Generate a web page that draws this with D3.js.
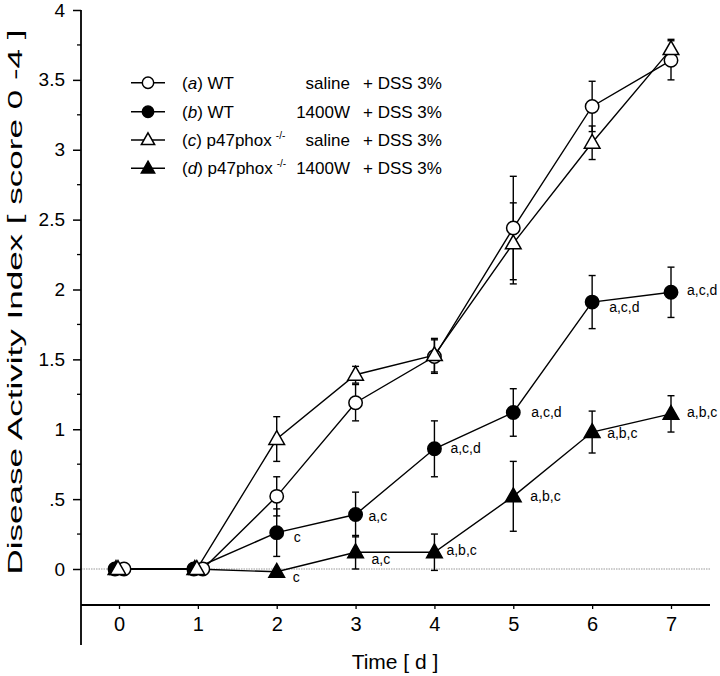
<!DOCTYPE html>
<html>
<head>
<meta charset="utf-8">
<script src="https://cdn.jsdelivr.net/npm/d3@7/dist/d3.min.js"></script>
<style>
  html, body { margin: 0; padding: 0; background: #fff; }
  svg { display: block; font-family: "Liberation Sans", Arial, Helvetica, sans-serif; }
</style>
</head>
<body>
<svg id="chart" width="720" height="676"></svg>
<script>
// ---------------- data ----------------
const days = [0, 1, 2, 3, 4, 5, 6, 7];
const xTickLabels = ["0", "1", "2", "3", "4", "5", "6", "7"];
const yTickValues = [0, 0.5, 1, 1.5, 2, 2.5, 3, 3.5, 4];
const yTickLabels = ["0", ".5", "1", "1.5", "2", "2.5", "3", "3.5", "4"];

const seriesKeys = ["a", "b", "c", "d"];
const aMean = [0, 0, 0.52, 1.19, 1.52, 2.44, 3.31, 3.64];
const aErr  = [0, 0, 0.14, 0.13, 0.12, 0.37, 0.18, 0.14];
const bMean = [0, 0, 0.26, 0.39, 0.86, 1.12, 1.91, 1.98];
const bErr  = [0, 0, 0.17, 0.16, 0.20, 0.17, 0.19, 0.18];
const cMean = [0, 0, 0.93, 1.39, 1.53, 2.33, 3.05, 3.72];
const cErr  = [0, 0, 0.16, 0.06, 0.12, 0.29, 0.12, 0.07];
const dMean = [0, 0, -0.02, 0.12, 0.12, 0.52, 0.98, 1.11];
const dErr  = [0, 0, 0, 0.12, 0.13, 0.25, 0.15, 0.13];

const legendLetter = ["a", "b", "c", "d"];
const legendStrain = ["WT", "WT", "p47phox", "p47phox"];
const legendSup    = ["", "", "-/-", "-/-"];
const legendTreat  = ["saline", "1400W", "saline", "1400W"];
const legendDss    = ["+ DSS 3%", "+ DSS 3%", "+ DSS 3%", "+ DSS 3%"];

const annSeries = ["b", "b", "b", "d", "d", "d", "b", "d", "b", "d", "b", "d"];
const annDay    = [2, 3, 4, 2, 3, 4, 5, 5, 6, 6, 7, 7];
const annText   = ["c", "a,c", "a,c,d", "c", "a,c", "a,b,c", "a,c,d", "a,b,c", "a,c,d", "a,b,c", "a,c,d", "a,b,c"];

const xTitle = "Time [ d ]";
const yTitle = "Disease Activity Index [ score 0 -4 ]";

// ---------------- layout / style ----------------
const annOffsets = [[17, 9], [13, 7], [16, 4], [16, 10], [16, 12], [12, 3], [18, 5], [17, 5], [17, 10], [15, 6], [16, 3], [16, 3]];
const styleBySeries = {
  a: {shape: "circle",   fill: "#fff", dodge: 5},
  b: {shape: "circle",   fill: "#000", dodge: -4},
  c: {shape: "triangle", fill: "#fff", dodge: -1},
  d: {shape: "triangle", fill: "#000", dodge: -3}
};
const drawOrder = ["d", "b", "a", "c"];

const svg = d3.select("#chart");
svg.append("rect").attr("width", 720).attr("height", 676).attr("fill", "#fff");

const axisX = 81, axisRight = 710, xAxisY = 605, axisBottom = 645;
const x = d3.scaleLinear().domain([0, 7]).range([119, 671]);
const y = d3.scaleLinear().domain([0, 4]).range([569, 10]);

const data = {
  a: days.map((d, i) => ({day: d, v: aMean[i], e: aErr[i]})),
  b: days.map((d, i) => ({day: d, v: bMean[i], e: bErr[i]})),
  c: days.map((d, i) => ({day: d, v: cMean[i], e: cErr[i]})),
  d: days.map((d, i) => ({day: d, v: dMean[i], e: dErr[i]}))
};
const px = (k, p) => x(p.day) + (p.day < 2 ? styleBySeries[k].dodge : 0);

// zero reference line (dotted)
svg.append("line")
  .attr("x1", axisX).attr("x2", axisRight)
  .attr("y1", y(0)).attr("y2", y(0))
  .attr("stroke", "#999").attr("stroke-width", 1.2)
  .attr("stroke-dasharray", "1.5,1");

// y axis
const yAxisG = svg.append("g").attr("transform", `translate(${axisX},0)`);
yAxisG.append("line").attr("x1", 0).attr("x2", 0).attr("y1", y(4)).attr("y2", axisBottom)
  .attr("stroke", "#000").attr("stroke-width", 1.8);
const minorTicks = d3.range(0, 4.01, 0.25).filter(v => Math.abs(v * 2 - Math.round(v * 2)) > 1e-6);
yAxisG.selectAll("line.minor").data(minorTicks).enter().append("line")
  .attr("class", "minor").attr("x1", -4).attr("x2", 0)
  .attr("y1", d => y(d)).attr("y2", d => y(d)).attr("stroke", "#000").attr("stroke-width", 1.3);
const yAxis = d3.axisLeft(y).tickValues(yTickValues)
  .tickFormat((d, i) => yTickLabels[i]).tickSize(8).tickPadding(8);
const yg = svg.append("g").attr("transform", `translate(${axisX},0)`).call(yAxis);
yg.select(".domain").remove();
yg.selectAll(".tick line").attr("stroke-width", 1.5);
yg.selectAll(".tick text").attr("font-size", 19).attr("font-family", "Liberation Sans, Arial, sans-serif").attr("fill", "#000");

// x axis
const xAxis = d3.axisBottom(x).tickValues(days).tickFormat((d, i) => xTickLabels[i]).tickSize(4).tickPadding(8);
const xg = svg.append("g").attr("transform", `translate(0,${xAxisY})`).call(xAxis);
xg.select(".domain").remove();
xg.append("line").attr("x1", axisX).attr("x2", axisRight).attr("y1", 0).attr("y2", 0)
  .attr("stroke", "#000").attr("stroke-width", 1.8);
xg.selectAll(".tick line").attr("stroke-width", 1.3);
xg.selectAll(".tick text").attr("font-size", 20).attr("font-family", "Liberation Sans, Arial, sans-serif").attr("fill", "#000");

// axis titles
svg.append("text").attr("x", (x(0) + x(7)) / 2).attr("y", 669)
  .attr("text-anchor", "middle").attr("font-size", 21).text(xTitle);
svg.append("text")
  .attr("transform", `translate(22,${302}) rotate(-90)`)
  .attr("text-anchor", "middle").attr("font-size", 20)
  .attr("textLength", 545).attr("lengthAdjust", "spacingAndGlyphs")
  .text(yTitle);

// marker helper
function triPath(s) {
  const h = s * 1.0;
  return `M0,${-h * 0.62}L${s * 0.58},${h * 0.4}L${-s * 0.58},${h * 0.4}Z`;
}
function drawMarker(g, k, cx, cy, scale) {
  const st = styleBySeries[k];
  if (st.shape === "circle") {
    g.append("circle").attr("cx", cx).attr("cy", cy).attr("r", 6.7 * scale)
      .attr("fill", st.fill).attr("stroke", "#000").attr("stroke-width", 1.5);
  } else {
    g.append("path").attr("d", triPath(13.5 * scale)).attr("transform", `translate(${cx},${cy})`)
      .attr("fill", st.fill).attr("stroke", "#000").attr("stroke-width", 1.5).attr("stroke-linejoin", "miter");
  }
}

const line = d3.line();
const linesG = svg.append("g");
const errG = svg.append("g");
const markG = svg.append("g");

drawOrder.forEach(k => {
  const pts = data[k];
  linesG.append("path")
    .attr("d", line(pts.map(p => [px(k, p), y(p.v)])))
    .attr("fill", "none").attr("stroke", "#000").attr("stroke-width", 1.4);
  pts.filter(p => p.e > 0).forEach(p => {
    const cx = px(k, p), y1 = y(p.v + p.e), y2 = y(p.v - p.e);
    errG.append("line").attr("x1", cx).attr("x2", cx).attr("y1", y1).attr("y2", y2)
      .attr("stroke", "#000").attr("stroke-width", 1.4);
    [y1, y2].forEach(yy => errG.append("line").attr("x1", cx - 3.5).attr("x2", cx + 3.5)
      .attr("y1", yy).attr("y2", yy).attr("stroke", "#000").attr("stroke-width", 1.4));
  });
});
drawOrder.forEach(k => {
  data[k].forEach(p => drawMarker(markG, k, px(k, p), y(p.v), 1));
});

// annotations
annText.forEach((t, i) => {
  const k = annSeries[i];
  const p = data[k][days.indexOf(annDay[i])];
  svg.append("text")
    .attr("x", x(p.day) + annOffsets[i][0])
    .attr("y", y(p.v) + annOffsets[i][1])
    .attr("font-size", 14).attr("fill", "#000").text(t);
});

// legend
const legRowY = [82.7, 111.7, 140, 168.3];
const legG = svg.append("g");
seriesKeys.forEach((k, i) => {
  const ly = legRowY[i];
  legG.append("line").attr("x1", 131).attr("x2", 165).attr("y1", ly).attr("y2", ly)
    .attr("stroke", "#000").attr("stroke-width", 1.4);
  drawMarker(legG, k, 148, ly, 0.85);
  const t = legG.append("text").attr("x", 182).attr("y", ly + 6).attr("font-size", 17);
  t.append("tspan").text("(");
  t.append("tspan").attr("font-style", "italic").text(legendLetter[i]);
  t.append("tspan").text(") " + legendStrain[i]);
  if (legendSup[i]) {
    t.append("tspan").attr("font-size", 10).attr("dy", -7).attr("dx", 4).text(legendSup[i]);
  }
  legG.append("text").attr("x", 350).attr("y", ly + 6).attr("text-anchor", "end")
    .attr("font-size", 17).text(legendTreat[i]);
  legG.append("text").attr("x", 363).attr("y", ly + 6).attr("font-size", 17).text(legendDss[i]);
});
</script>
</body>
</html>
